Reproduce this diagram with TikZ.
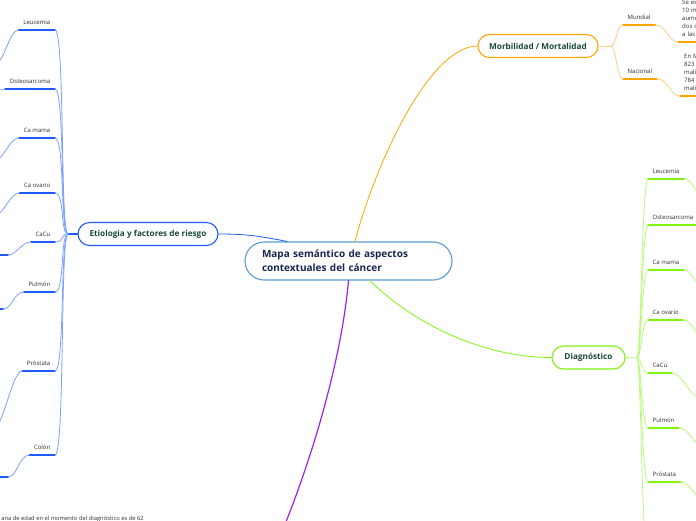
\documentclass[tikz,border=0pt]{standalone}
\usepackage{fontspec}
\setmainfont{Open Sans}
\definecolor{mapline}{RGB}{91,155,213}
\definecolor{maptext}{RGB}{22,38,80}
\definecolor{boxtext}{RGB}{22,72,52}
\definecolor{leaftext}{RGB}{45,45,45}
\definecolor{etioB}{RGB}{30,90,255}
\definecolor{etioL}{RGB}{125,160,255}
\definecolor{morbB}{RGB}{255,165,0}
\definecolor{morbL}{RGB}{255,205,130}
\definecolor{diagB}{RGB}{128,245,10}
\definecolor{diagL}{RGB}{185,250,125}
\definecolor{evolB}{RGB}{160,32,240}
\begin{document}
\begin{tikzpicture}[x=1pt, y=-1pt, line join=round, line cap=round,
	centre/.style={draw=mapline, line width=1.1pt, rounded corners=19pt, minimum height=38pt, text width=173pt, inner xsep=17pt, align=left, text=maptext, font=\fontsize{10}{14}\selectfont\bfseries},
	branch/.style={line width=1.1pt, rounded corners=11.5pt, minimum height=23pt, inner xsep=0pt, text=boxtext, font=\fontsize{8.2}{10}\selectfont\bfseries},
	leaf/.style={inner xsep=4.5pt, inner ysep=4pt, text depth=1.5pt, text=leaftext, font=\fontsize{6}{8}\selectfont},
	note/.style={inner xsep=4pt, inner ysep=5.5pt, text width=30pt, align=left, text=leaftext, font=\fontsize{6}{8}\selectfont},
	twig/.style={line width=0.8pt}, bar/.style={line width=1.6pt}]
	\useasboundingbox (0,0) rectangle (696,520);
	\clip (0,0) rectangle (696,520);
	\def\ex{55} \def\dx{648} % bordes de las ramas
	% nodo central y ramas
	\node[centre] (map) at (348.5,261) {Mapa semántico de aspectos\\contextuales del cáncer};
	\node[branch, draw=etioB, minimum width=140pt] (etio) at (148,234) {Etiologia y factores de riesgo};
	\node[branch, draw=morbB, minimum width=120pt] (morb) at (538,46) {Morbilidad / Mortalidad};
	\node[branch, draw=diagB, minimum width=73pt] (diag) at (588.5,357.5) {Diagnóstico};
	\coordinate (evol) at (270,560);
	\draw[twig, etioB] ([xshift=-61.5pt]map.north) .. controls +(-30,-6) and +(25,0) .. (etio.east);
	\draw[twig, morbB] ([xshift=6.5pt]map.north) .. controls +(20,-77) and +(-48,0) .. (morb.west);
	\draw[twig, diagB] ([xshift=21.5pt]map.south) .. controls +(40,40) and +(-72,0) .. (diag.west);
	\draw[line width=1.2pt, evolB] (map.south) .. controls +(-7,80) and +(40,-90) .. (evol);
	\node[anchor=base east, inner sep=0pt, text=leaftext, font=\fontsize{5.8}{8}\selectfont] (evolTxt) at (144,520.5) {ana de edad en el momento del diagnóstico es de 62};
	% etiologia
	\coordinate (etioJ) at (68,234);
	\draw[bar, etioB] (etio.west) -- (etioJ);
	\foreach \nm/\txt/\y/\gx/\gy in {eLeu/Leucemia/30/-5/64, eOst/Osteosarcoma/89/-20/89, eMam/Ca mama/138/-5/160, eOva/Ca ovario/193/-5/215, eCacu/CaCu/242/8/255, ePul/Pulmón/292/3/309, ePro/Próstata/371/-6/428, eCol/Colón/455/8/477} {
		\node[leaf, anchor=south east] (\nm) at (\ex,\y) {\txt};
		\coordinate (\nm g) at (\gx,\gy);
		\draw[bar, etioB] (\nm.south west) -- (\nm.south east);
		\draw[twig, etioL] (etioJ) .. controls +(-8,0) and +(10,0) .. (\nm.south east);
		\draw[twig, etioL] (\nm.south west) .. controls +(-10,0) and +(9,0) .. (\nm g);
		\draw[bar, etioB] (\nm g) -- +(-30,0);
	}
	% morbilidad
	\coordinate (morbJ) at (611,46);
	\draw[twig, morbL] (morb.east) -- (morbJ);
	\node[leaf, anchor=south west] (mMun) at (623,25) {Mundial};
	\node[leaf, anchor=south west] (mNac) at (623,79) {Nacional};
	\node[note, anchor=south west] (mMunT) at (678,42) {Se es\\10 m\\aume\\dos d\\a las};
	\node[note, anchor=south west] (mNacT) at (680,96) {En M\\823\\mali\\784\\mali};
	\foreach \a/\b in {mMun/mMunT, mNac/mNacT} {
		\draw[bar, morbB] (\a.south west) -- (\a.south east);
		\draw[bar, morbB] (\b.south west) -- (\b.south east);
		\draw[twig, morbL] (morbJ) .. controls +(5,0) and +(-6,0) .. (\a.south west);
		\draw[twig, morbL] (\a.south east) .. controls +(12,0) and +(-10,0) .. (\b.south west);
	}
	% diagnostico
	\coordinate (diagJ) at (637,358);
	\coordinate (dNext) at (648,560);
	\draw[twig, diagL] (diag.east) -- (diagJ);
	\draw[twig, diagL] (diagJ) .. controls +(4,0) and +(-6,0) .. (dNext);
	\foreach \nm/\txt/\y/\gx/\gy in {dLeu/Leucemia/179/706/200, dOst/Osteosarcoma/225/720/225, dMam/Ca mama/270/706/291, dOva/Ca ovario/320/706/341, dCacu/CaCu/373/700/398, dPul/Pulmón/428/703/446, dPro/Próstata/482/706/502} {
		\node[leaf, anchor=south west] (\nm) at (\dx,\y) {\txt};
		\coordinate (\nm g) at (\gx,\gy);
		\draw[bar, diagB] (\nm.south west) -- (\nm.south east);
		\draw[twig, diagL] (diagJ) .. controls +(4,0) and +(-6,0) .. (\nm.south west);
		\draw[twig, diagL] (\nm.south east) .. controls +(10,0) and +(-9,0) .. (\nm g);
	}
\end{tikzpicture}
\end{document}
